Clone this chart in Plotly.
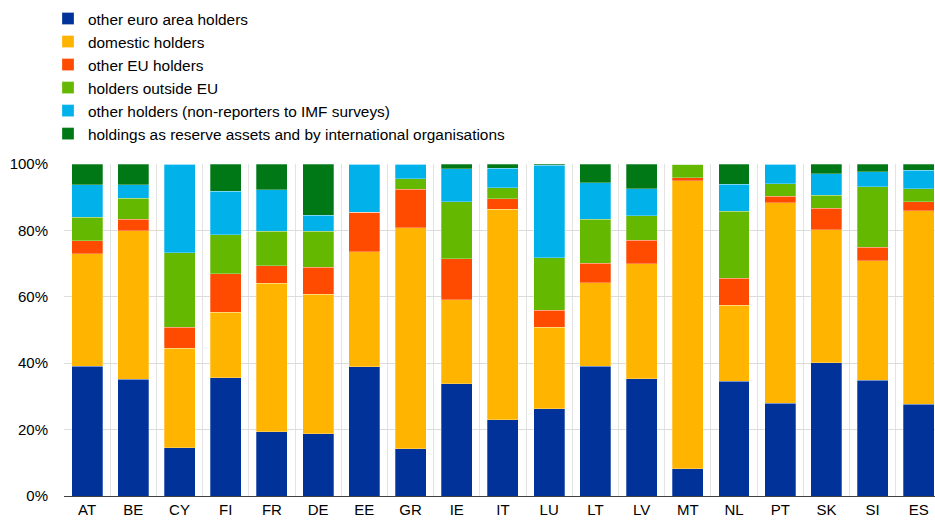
import plotly.graph_objects as go

countries = ["AT", "BE", "CY", "FI", "FR", "DE", "EE", "GR", "IE", "IT",
             "LU", "LT", "LV", "MT", "NL", "PT", "SK", "SI", "ES"]

other_euro_area = [39.1, 35.1, 14.5, 35.6, 19.3, 18.8, 38.9, 14.3, 33.8, 23.0,
                   26.3, 39.1, 35.3, 8.2, 34.5, 27.9, 40.1, 34.9, 27.6]
domestic = [33.8, 44.8, 30.0, 19.8, 44.8, 42.0, 34.6, 66.5, 25.3, 63.3,
            24.6, 25.1, 34.6, 86.8, 23.0, 60.4, 40.1, 35.9, 58.3]
other_eu = [4.0, 3.4, 6.3, 11.6, 5.3, 8.1, 11.9, 11.6, 12.4, 3.3,
            5.1, 5.9, 7.1, 0.9, 8.1, 2.0, 6.4, 4.1, 2.8]
outside_eu = [7.1, 6.4, 22.4, 11.7, 10.4, 10.9, 0.0, 3.2, 17.2, 3.2,
              15.8, 13.2, 7.4, 4.1, 20.2, 3.8, 4.0, 18.2, 3.9]
non_reporters = [9.8, 4.0, 26.8, 13.1, 12.4, 4.7, 14.6, 4.4, 9.9, 5.9,
                 27.8, 11.1, 8.2, 0.0, 8.1, 5.9, 6.4, 4.5, 5.5]
reserves_intl = [6.2, 6.3, 0.0, 8.2, 7.8, 15.5, 0.0, 0.0, 1.4, 1.3,
                 0.4, 5.6, 7.4, 0.0, 6.1, 0.0, 3.0, 2.4, 1.9]

series = [
    ("other euro area holders", other_euro_area, "#003299"),
    ("domestic holders", domestic, "#FFB400"),
    ("other EU holders", other_eu, "#FF4B00"),
    ("holders outside EU", outside_eu, "#65B800"),
    ("other holders (non-reporters to IMF surveys)", non_reporters, "#00B1EA"),
    ("holdings as reserve assets and by international organisations", reserves_intl, "#007816"),
]

fig = go.Figure()
for name, vals, color in series:
    fig.add_trace(go.Bar(
        x=countries, y=vals, name=name,
        marker=dict(color=color, line=dict(color="rgba(255,255,255,0.35)", width=0.8)),
    ))

W, H = 935, 522
fig.update_layout(
    width=W, height=H,
    barmode="stack",
    bargap=0.33,
    paper_bgcolor="white",
    plot_bgcolor="white",
    font=dict(family="Liberation Sans, Arial, sans-serif", size=15, color="#000000"),
    margin=dict(l=64, r=0, t=164, b=26, pad=0, autoexpand=False),
    legend=dict(
        xref="container", yref="container",
        x=48 / W, y=1 - 2 / H, xanchor="left", yanchor="top",
        orientation="v", traceorder="normal",
        font=dict(size=15.4, color="#000000"),
        bgcolor="rgba(0,0,0,0)", itemclick=False,
    ),
    xaxis=dict(
        type="category",
        range=[-0.5, 18.35],
        tickson="boundaries",
        showgrid=True, gridcolor="#e3e3e3", gridwidth=1.3,
        ticks="", showline=True, linecolor="#404040", linewidth=1,
        tickfont=dict(size=15), tickangle=0,
        fixedrange=True,
    ),
    yaxis=dict(
        range=[0, 100],
        tickvals=[0, 20, 40, 60, 80, 100],
        ticktext=["0%", "20%", "40%", "60%", "80%", "100%"],
        showgrid=True, gridcolor="#dcdcdc", gridwidth=1,
        zeroline=False, showline=False,
        ticks="outside", ticklen=12, tickcolor="rgba(0,0,0,0)",
        tickfont=dict(size=15),
        fixedrange=True,
    ),
)

fig.write_html("out.html")
